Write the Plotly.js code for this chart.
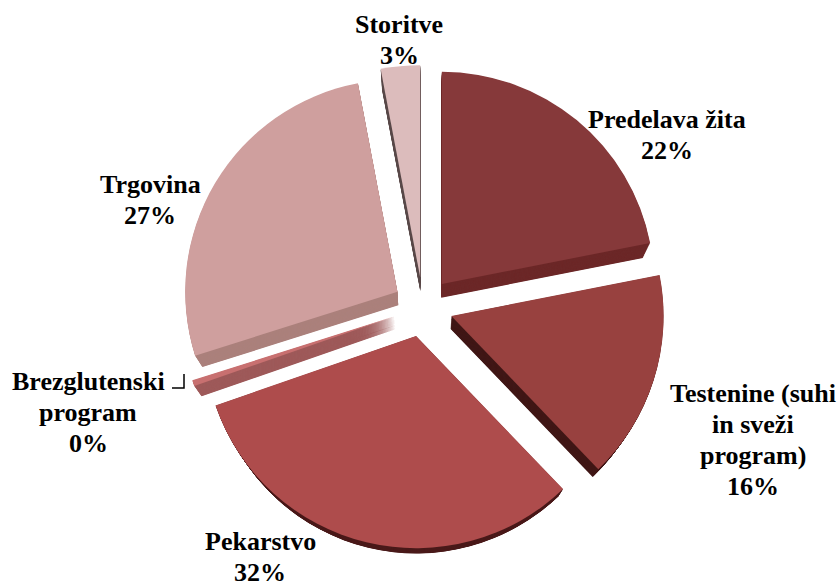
<!DOCTYPE html>
<html><head><meta charset="utf-8">
<script src="https://cdn.plot.ly/plotly-3.0.1.min.js"></script>
<style>html,body{margin:0;padding:0;background:#fff}#c{width:840px;height:586px}</style>
</head><body><div id="c"></div>
<script>
const categories = ["Predelava žita","Testenine (suhi|in sveži|program)","Pekarstvo","Brezglutenski|program","Trgovina","Storitve"];
const values = [22,16,32,0.45,27,3];
const faceColors = ["#86393a","#98413f","#ae4c4c","#c87070","#cf9f9e","#dcbcbc"];
const sideColors = ["#6c2828","#411817","#4b1b1b","#9e5a5a","#ab807c","#5a4a4a"];
const W = 840, H = 586;
const total = values.reduce((a,b)=>a+b,0);
const labelTop = [[667,120],[753,393],[260,541],[88,381],[150,184],[399,25]];
const lineGap = 31;

function pieDomain(cx,cy,half){
  return {x:[(cx-half)/W,(cx+half)/W], y:[1-(cy+half)/H,1-(cy-half)/H]};
}
function pie(colors,domain){
  return {type:"pie",values:values,labels:categories,sort:false,direction:"clockwise",rotation:0,
    pull:0.14,textinfo:"none",hoverinfo:"skip",showlegend:false,
    marker:{colors:colors,line:{width:0}},domain:domain};
}
const depth = 13, step = 0.5;
const data = [];
for(let d=depth;d>0;d-=step){ data.push(pie(sideColors,pieDomain(423,307+d,242-d*0.6))); }
data.push(pie(faceColors,pieDomain(423,307,242)));

const annotations = [];
categories.forEach((c,i)=>{
  const lines = c.split("|").concat([Math.round(values[i]/total*100)+"%"]);
  lines.forEach((t,k)=>annotations.push({
    xref:"paper",yref:"paper",x:labelTop[i][0]/W,y:1-(labelTop[i][1]+k*lineGap)/H,
    xanchor:"center",yanchor:"middle",showarrow:false,align:"center",
    text:"<b>"+t+"</b>",
    font:{family:"Liberation Serif",size:26,color:"#000"}
  }));
});
const layout = {width:W,height:H,margin:{l:0,r:0,t:0,b:0},paper_bgcolor:"#fff",plot_bgcolor:"#fff",
  showlegend:false,annotations:annotations,
  shapes:[{type:"path",xref:"paper",yref:"paper",
    path:`M ${172/W} ${1-388/H} L ${184/W} ${1-388/H} L ${184/W} ${1-374/H}`,
    line:{color:"#000",width:1.5}}]};
Plotly.newPlot("c",data,layout,{displayModeBar:false,staticPlot:true});
</script></body></html>
